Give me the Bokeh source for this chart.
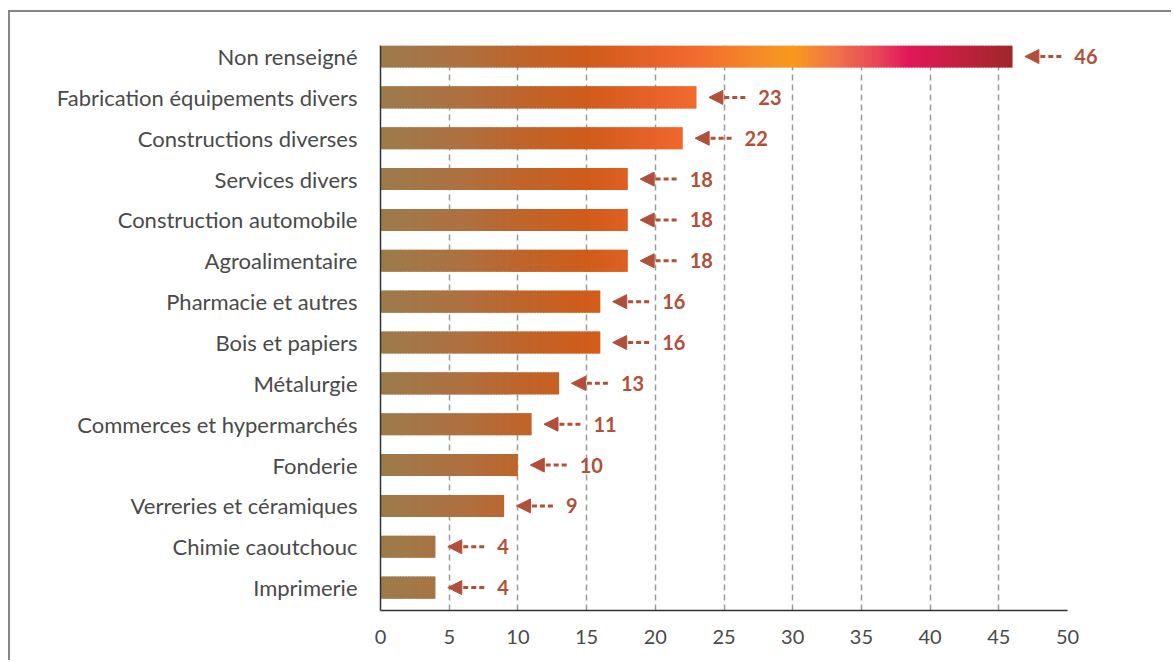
from bokeh.plotting import figure
from bokeh.models import (Range1d, FixedTicker, ColumnDataSource, Arrow, NormalHead,
                          LabelSet)
from bokeh.core.properties import value
from bokeh.embed import file_html
from bokeh.resources import INLINE

# Secteurs d'activité et nombre de cas
categories = ["Non renseigné", "Fabrication équipements divers", "Constructions diverses",
              "Services divers", "Construction automobile", "Agroalimentaire",
              "Pharmacie et autres", "Bois et papiers", "Métalurgie",
              "Commerces et hypermarchés", "Fonderie", "Verreries et céramiques",
              "Chimie caoutchouc", "Imprimerie"]
counts = [46, 23, 22, 18, 18, 18, 16, 16, 13, 11, 10, 9, 4, 4]
x_ticks = [0, 5, 10, 15, 20, 25, 30, 35, 40, 45, 50]

# gradient stops along the value axis: (position, colour)
grad_stops = [(0, "#9C7B4B"), (6, "#AF7040"), (10, "#BE652C"), (15, "#D05C1A"),
              (20, "#E8622A"), (23, "#F26B2E"), (27, "#F5872A"), (30, "#F89B1C"),
              (33, "#F07448"), (36, "#E94858"), (38.5, "#E2165A"), (42, "#C4203F"),
              (46, "#A0262A")]

LABEL_COLOR = "#B24F39"
TEXT_COLOR = "#4a4a4a"
FONT = "Lato"

# page geometry
OFF_X, OFF_Y = 10, 12          # outer frame: margin + border
FIG_W, FIG_H = 1173 - OFF_X, 662 - OFF_Y
B_LEFT, B_RIGHT, B_TOP, B_BOTTOM = 370, 10, 33, 52
AXIS_MAX = 50
AXIS_PX = 687                  # pixel length of the 0..50 scale
x_end = AXIS_MAX * (FIG_W - B_LEFT - B_RIGHT) / AXIS_PX


def hex_to_rgb(h):
    h = h.lstrip("#")
    return tuple(int(h[i:i + 2], 16) for i in (0, 2, 4))


def grad_color(x):
    if x <= grad_stops[0][0]:
        return grad_stops[0][1]
    for (x0, c0), (x1, c1) in zip(grad_stops[:-1], grad_stops[1:]):
        if x <= x1:
            t = (x - x0) / (x1 - x0)
            a, b = hex_to_rgb(c0), hex_to_rgb(c1)
            r = [round(a[k] + (b[k] - a[k]) * t) for k in range(3)]
            return "#%02x%02x%02x" % tuple(r)
    return grad_stops[-1][1]


n = len(categories)
ypos = [n - 1 - i for i in range(n)]
BAR_H = 0.54

p = figure(width=FIG_W, height=FIG_H, output_backend="svg", toolbar_location=None,
           x_range=Range1d(0, x_end), y_range=Range1d(-0.56, 13.27),
           min_border_left=B_LEFT, min_border_right=B_RIGHT, min_border_top=B_TOP,
           min_border_bottom=B_BOTTOM)
p.background_fill_color = "white"
p.border_fill_color = "white"
p.outline_line_color = None
p.styles = {"margin-left": "8px", "margin-top": "10px",
            "border-left": "2px solid #858585", "border-top": "2px solid #858585"}

# vertical dashed grid
p.ygrid.grid_line_color = None
p.xgrid.ticker = FixedTicker(ticks=x_ticks[1:-1])
p.xgrid.grid_line_color = "#9a9a9a"
p.xgrid.grid_line_dash = "6 4"
p.xgrid.grid_line_width = 1.5

# bars drawn as thin slices so the colour follows the value axis
STEP = 0.2
left, right, top, bottom, colors = [], [], [], [], []
for y, v in zip(ypos, counts):
    x = 0.0
    while x < v - 1e-9:
        x1 = min(x + STEP, v)
        left.append(x)
        right.append(min(x + STEP * 1.6, v))
        top.append(y + BAR_H / 2)
        bottom.append(y - BAR_H / 2)
        colors.append(grad_color((x + x1) / 2))
        x = x1
p.quad(left=left, right=right, top=top, bottom=bottom, fill_color=colors,
       line_color=None)

# value arrows and labels
arrow_src = ColumnDataSource(dict(
    xs=[v + 3.55 for v in counts],
    xe=[v + 0.9 for v in counts],
    y=ypos,
))
p.add_layout(Arrow(end=NormalHead(size=14, fill_color=LABEL_COLOR, line_color=LABEL_COLOR,
                                  line_width=1),
                   x_start="xs", y_start="y", x_end="xe", y_end="y",
                   line_color=LABEL_COLOR, line_width=3, line_dash="5 3",
                   source=arrow_src))

lab_src = ColumnDataSource(dict(x=[v + 4.5 for v in counts], y=ypos,
                                t=[str(v) for v in counts]))
p.add_layout(LabelSet(x="x", y="y", text="t", source=lab_src, text_font=value(FONT),
                      text_font_style="bold", text_font_size="20px",
                      text_color=LABEL_COLOR, text_baseline="middle",
                      text_align="left"))

# axes
p.xaxis.ticker = FixedTicker(ticks=x_ticks)
p.xaxis.bounds = (0, AXIS_MAX)
p.xaxis.major_tick_line_color = None
p.xaxis.minor_tick_line_color = None
p.xaxis.axis_line_color = "#333333"
p.xaxis.axis_line_width = 1.5
p.xaxis.major_label_text_font = FONT
p.xaxis.major_label_text_font_size = "20px"
p.xaxis.major_label_text_color = TEXT_COLOR
p.xaxis.major_label_standoff = 13

p.yaxis.ticker = FixedTicker(ticks=ypos)
p.yaxis.major_label_overrides = {y: c for y, c in zip(ypos, categories)}
p.yaxis.major_tick_line_color = None
p.yaxis.minor_tick_line_color = None
p.yaxis.axis_line_color = "#333333"
p.yaxis.axis_line_width = 1.5
p.yaxis.major_label_text_font = FONT
p.yaxis.major_label_text_font_size = "22px"
p.yaxis.major_label_text_color = TEXT_COLOR
p.yaxis.major_label_standoff = 17

open("out.html", "w").write(file_html(p, INLINE))
